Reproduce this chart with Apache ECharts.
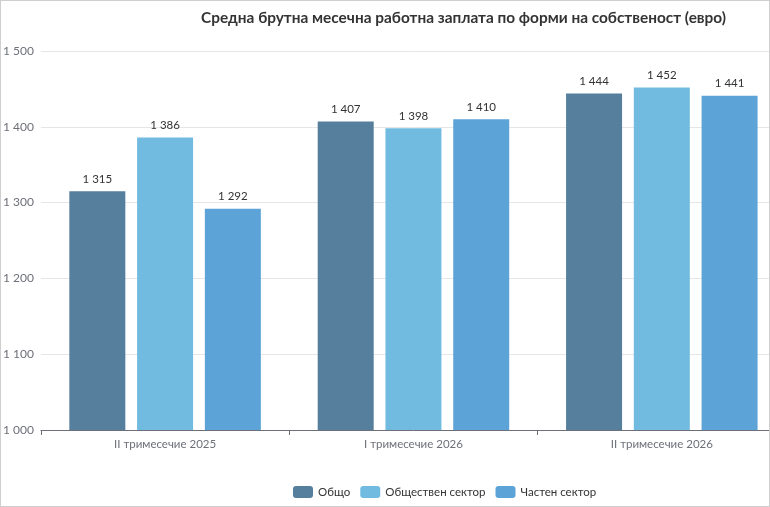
<!DOCTYPE html>
<html>
<head>
<meta charset="utf-8">
<script src="https://cdn.jsdelivr.net/npm/echarts@6/dist/echarts.min.js"></script>
<style>
  html, body { margin: 0; padding: 0; background: #fff; }
  #frame { width: 770px; height: 507px; box-sizing: border-box; border: 1px solid #cfcfcf; overflow: hidden; position: relative; }
  #chart { position: absolute; left: -1px; top: -1px; width: 802px; height: 507px; }
</style>
</head>
<body>
<div id="frame"><div id="chart"></div></div>
<script>
const titleText = 'Средна брутна месечна работна заплата по форми на собственост (евро)';
const categories = ['II тримесечие 2025', 'I тримесечие 2026', 'II тримесечие 2026'];
const seriesNames = ['Общо', 'Обществен сектор', 'Частен сектор'];
const totalValues = [1315, 1407, 1444];
const publicValues = [1386, 1398, 1452];
const privateValues = [1292, 1410, 1441];
const colors = ['#567f9e', '#72bbe0', '#5ca4d8'];

const fontFamily = 'Lato, "Open Sans", "Noto Sans", sans-serif';
const fmt = v => String(v).replace(/\B(?=(\d{3})+(?!\d))/g, ' ');

const makeSeries = (name, data, color) => ({
    name: name,
    type: 'bar',
    data: data,
    barWidth: 56,
    barGap: '21%',
    itemStyle: { color: color },
    label: {
        show: true,
        position: 'top',
        distance: 6,
        color: '#333',
        fontSize: 11.5,
        fontFamily: fontFamily,
        formatter: p => fmt(p.value)
    }
});

const chart = echarts.init(document.getElementById('chart'));
chart.setOption({
    animation: false,
    textStyle: { fontFamily: fontFamily },
    title: {
        text: titleText,
        left: 196,
        top: 6,
        textStyle: { fontSize: 15.4, fontWeight: 'bold', color: '#333', fontFamily: fontFamily }
    },
    legend: {
        bottom: 4,
        left: 288,
        itemWidth: 20,
        itemHeight: 12,
        itemGap: 10,
        icon: 'roundRect',
        textStyle: { color: '#333', fontSize: 11.5, fontFamily: fontFamily },
        data: seriesNames
    },
    grid: { left: 40, right: 16, top: 51, bottom: 77, containLabel: false },
    xAxis: {
        type: 'category',
        data: categories,
        axisLine: { lineStyle: { color: '#6e7079' } },
        axisTick: { show: true, length: 5, lineStyle: { color: '#6e7079' } },
        axisLabel: { color: '#6e7079', fontSize: 11.5, margin: 8 }
    },
    yAxis: {
        type: 'value',
        min: 1000,
        max: 1500,
        interval: 100,
        axisLine: { show: false },
        axisTick: { show: false },
        splitLine: { lineStyle: { color: '#e6e6e6' } },
        axisLabel: { color: '#6e7079', fontSize: 12, margin: 7, formatter: v => fmt(v) }
    },
    series: [
        makeSeries(seriesNames[0], totalValues, colors[0]),
        makeSeries(seriesNames[1], publicValues, colors[1]),
        makeSeries(seriesNames[2], privateValues, colors[2])
    ]
});
</script>
</body>
</html>
